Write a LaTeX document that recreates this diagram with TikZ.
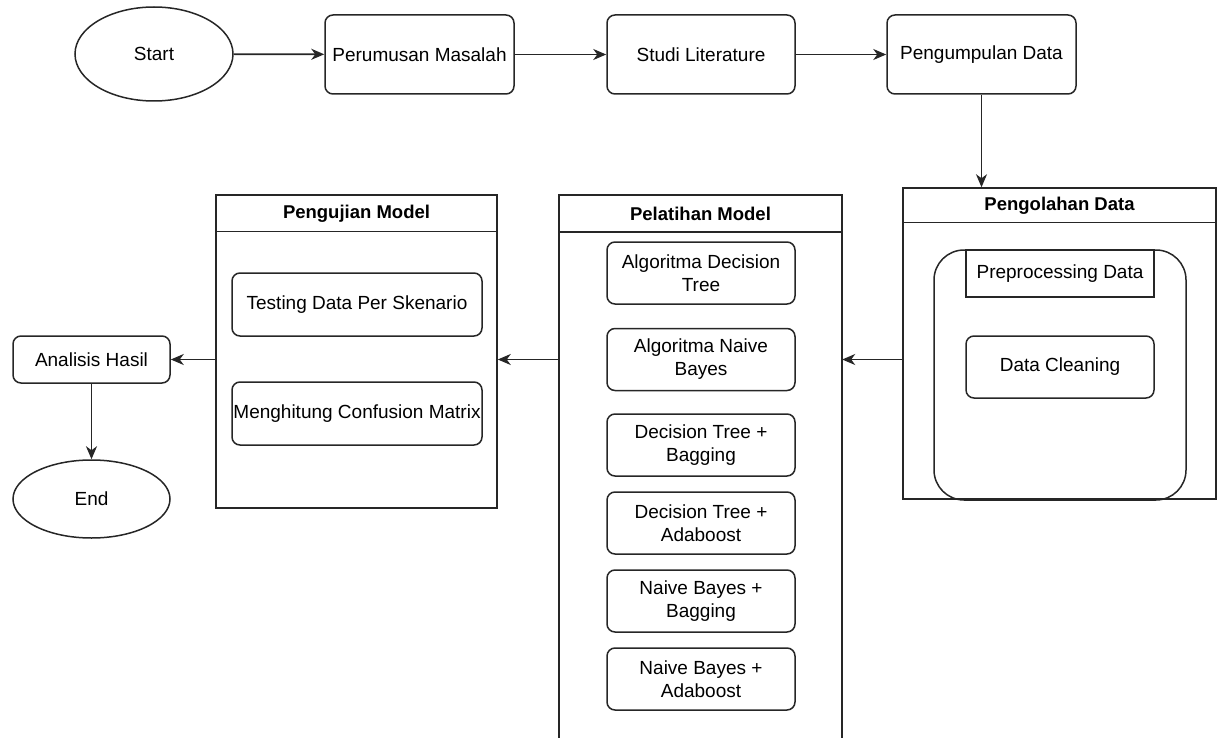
\documentclass[tikz,border=0pt]{standalone}
\usepackage{fontspec}
\setmainfont{Liberation Sans}
\usetikzlibrary{shapes.geometric,arrows.meta,calc}
\begin{document}
\begin{tikzpicture}[x=1pt,y=-1pt,
  every node/.style={font=\fontsize{19}{23}\selectfont},
  ln/.style={draw=black!85, line width=1.5pt},
  rbox/.style={ln, rounded corners=8pt, inner sep=0pt, align=center},
  sbox/.style={ln, inner sep=0pt, align=center},
  term/.style={ln, ellipse, inner sep=0pt},
  frame/.style={inner sep=0pt},
  hdr/.style={font=\fontsize{18.5}{22}\selectfont\bfseries},
  arr/.style={draw=black!85, line width=1.7pt, -{Stealth[length=13pt,width=11pt,inset=4pt]}},
]
\useasboundingbox (0,0) rectangle (1217,738);

% top row
\node[term, minimum width=158pt, minimum height=94pt] (start) at (154,54) {Start};
\node[rbox, minimum width=189pt, minimum height=79pt] (per) at (419.5,54.5) {Perumusan Masalah};
\node[rbox, minimum width=188pt, minimum height=79pt] (stu) at (701,54.5) {Studi Literature};
\node[rbox, minimum width=189pt, minimum height=79pt] (pen) at (981.5,54.5) {Pengumpulan Data};

% Pengolahan Data container
\node[frame, ln, minimum width=313pt, minimum height=311pt] (olah) at (1059.5,343.5) {};
\draw[ln] ($(olah.north west)+(0,35)$) -- ($(olah.north east)+(0,35)$);
\node[hdr] (olahh) at (1059.5,205.5) {Pengolahan Data};
\node[ln, rounded corners=30pt, inner sep=0pt, minimum width=252pt, minimum height=250pt] (pre) at (1060,375) {};
\node[sbox, minimum width=188pt, minimum height=47pt] (preh) at (1060,273.5) {Preprocessing Data};
\node[rbox, minimum width=188pt, minimum height=62pt] (clean) at (1060,367) {Data Cleaning};

% Pelatihan Model container (runs past the bottom edge)
\node[frame, minimum width=283pt, minimum height=563pt] (lat) at (700.5,476.5) {};
\draw[ln] (lat.south west) -- (lat.north west) -- (lat.north east) -- (lat.south east);
\draw[ln] ($(lat.north west)+(0,37)$) -- ($(lat.north east)+(0,37)$);
\node[hdr] (lath) at (700.5,213.5) {Pelatihan Model};
\node[rbox, minimum width=188pt, minimum height=62pt] (a1) at (701,273) {Algoritma Decision\\Tree};
\node[rbox, minimum width=188pt, minimum height=62pt] (a2) at (701,359.5) {Algoritma Naive\\Bayes};
\node[rbox, minimum width=188pt, minimum height=62pt] (a3) at (701,445) {Decision Tree +\\Bagging};
\node[rbox, minimum width=188pt, minimum height=62pt] (a4) at (701,523) {Decision Tree +\\Adaboost};
\node[rbox, minimum width=188pt, minimum height=62pt] (a5) at (701,601) {Naive Bayes +\\Bagging};
\node[rbox, minimum width=188pt, minimum height=62pt] (a6) at (701,679) {Naive Bayes +\\Adaboost};

% Pengujian Model container
\node[frame, ln, minimum width=281pt, minimum height=313pt] (uji) at (356.5,351.5) {};
\draw[ln] ($(uji.north west)+(0,37)$) -- ($(uji.north east)+(0,37)$);
\node[hdr] (ujih) at (356.5,213.5) {Pengujian Model};
\node[rbox, minimum width=250pt, minimum height=63pt] (t1) at (357,304.5) {Testing Data Per Skenario};
\node[rbox, minimum width=250pt, minimum height=63pt] (t2) at (357,413.5) {Menghitung Confusion Matrix};

% left column
\node[rbox, minimum width=157pt, minimum height=47pt] (ana) at (91.5,359.5) {Analisis Hasil};
\node[term, minimum width=157pt, minimum height=78pt] (end) at (91.5,499) {End};

% connectors
\draw[arr] (start) -- (per);
\draw[arr] (per) -- (stu);
\draw[arr] (stu) -- (pen);
\draw[arr] (pen.south) -- (pen.south |- olah.north);
\draw[arr] (olah.west |- a2) -- (lat.east |- a2);
\draw[arr] (lat.west |- ana) -- (uji.east |- ana);
\draw[arr] (uji.west |- ana) -- (ana.east);
\draw[arr] (ana) -- (end);
\end{tikzpicture}
\end{document}
